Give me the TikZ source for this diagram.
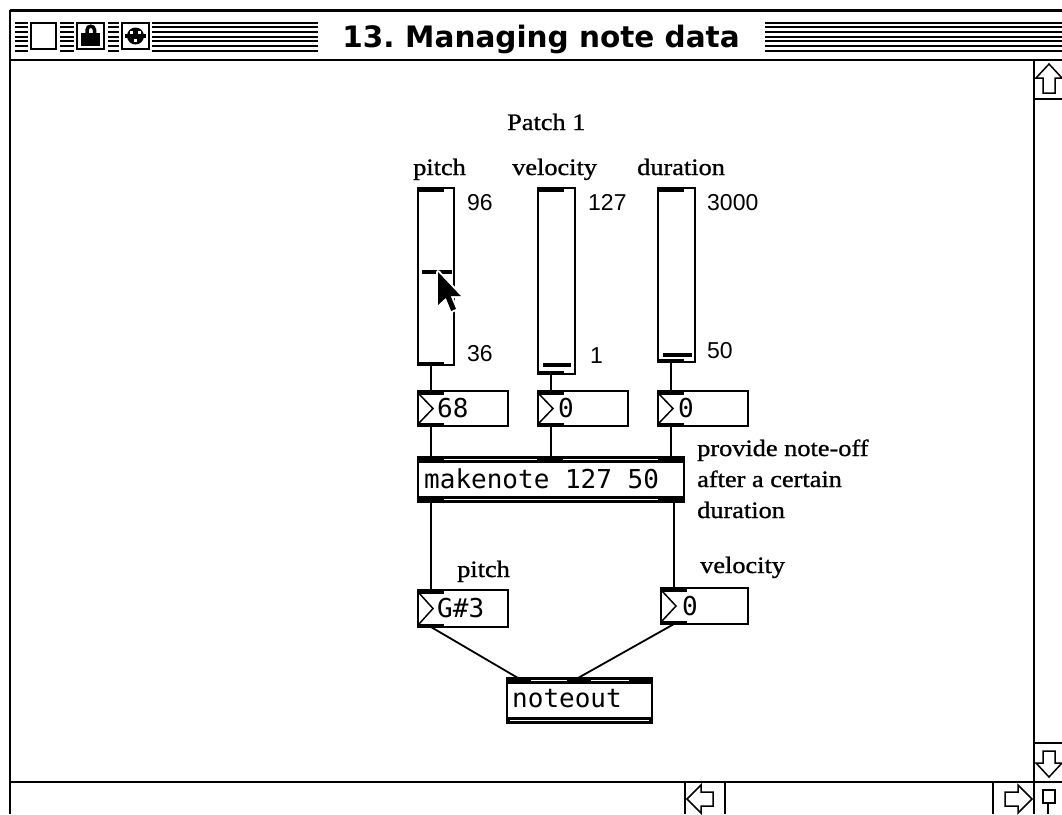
\documentclass[tikz,border=0pt]{standalone}
\usepackage{fontspec}
\setmainfont{Liberation Serif}
\newfontfamily\nyfont[FakeStretch=1.12,FakeBold=1]{Liberation Serif}
\newfontfamily\monfont{DejaVu Sans Mono}
\newfontfamily\genfont{Liberation Sans}
\newfontfamily\chifont{DejaVu Sans}
\usetikzlibrary{calc}
\newcommand{\tabN}[2]{\fill ($(#1.north west)+(#2,-1)$) rectangle ++(26,4.5);}
\newcommand{\tabS}[2]{\fill ($(#1.south west)+(#2,1)$) rectangle ++(26,-4.5);}
\newcommand{\tri}[1]{\draw[line width=1.5] ($(#1.north west)+(1,3)$) -- ($(#1.west)+(15,0)$) -- ($(#1.south west)+(1,-3)$);}
\begin{document}
\begin{tikzpicture}[x=1pt,y=-1pt,
  box/.style={draw, line width=2, inner sep=0, outer sep=0, fill=white},
  conn/.style={line width=2},
  lbl/.style={font=\nyfont\fontsize{23.5}{26}\selectfont, anchor=base west, inner sep=0},
  num/.style={font=\genfont\fontsize{23}{26}\selectfont, anchor=base west, inner sep=0},
  mono/.style={font=\monfont\fontsize{26}{28}\selectfont, anchor=base west, inner sep=0},
  frame/.style={line width=2},
  stripe/.style={line width=1.8},
  arrowbox/.style={line width=1.5, line join=miter}]
\useasboundingbox (0,0) rectangle (1062,814);
\fill[white] (0,0) rectangle (1062,814);
\clip (0,0) rectangle (1062,814);

% ---------- window frame ----------
\draw[line width=3] (10,10) -- (1062,10);
\draw[frame] (10,10) -- (10,814);
\draw[frame] (10,59.5) -- (1062,59.5);
\foreach \k in {0,...,6}{
  \draw[stripe] (15,{22.7+4.67*\k}) -- (318,{22.7+4.67*\k});
  \draw[stripe] (765,{22.7+4.67*\k}) -- (1062,{22.7+4.67*\k});
}
\fill[white] (28,18) rectangle (60,54);
\fill[white] (74,18) rectangle (108,54);
\fill[white] (119,18) rectangle (152,54);
\draw[frame] (31,23) rectangle (56,49);
\draw[frame] (77,23) rectangle (104,49);
\draw[frame] (122,23) rectangle (149,49);
% lock
\fill (81,33) rectangle (100,46);
\draw[line width=3.5] (87,34) -- (87,30) .. controls (87,25) and (94.5,25) .. (94.5,30) -- (94.5,34);
% plug
\fill (135.5,36) circle (8.5);
\fill (125,34) rectangle (146,38);
\fill[white] (130,31) rectangle (133,34);
\fill[white] (138,31) rectangle (141,34);
\fill[white] (134,39) rectangle (137,42);
% title
\node[font=\chifont\bfseries\fontsize{29.5}{32}\selectfont, anchor=base, inner sep=0] (title) at (541,47) {13.\hspace{-3pt} Managing note data};

% ---------- scroll bars ----------
\draw[frame] (1034,59.5) -- (1034,814);
\draw[frame] (1034,99) -- (1062,99);
\draw[arrowbox] (1049,64) -- (1062,78) -- (1055,78) -- (1055,93) -- (1043,93) -- (1043,78) -- (1036,78) -- cycle;
\draw[frame] (1034,743) -- (1062,743);
\draw[arrowbox] (1043,751) -- (1055,751) -- (1055,763) -- (1062,763) -- (1049,777) -- (1036,763) -- (1043,763) -- cycle;
\draw[frame] (10,782) -- (1062,782);
\draw[frame] (685,782) -- (685,814);
\draw[frame] (725,782) -- (725,814);
\draw[frame] (993,782) -- (993,814);
\draw[arrowbox] (687,799) -- (701,785) -- (701,792) -- (713,792) -- (713,806) -- (701,806) -- (701,813) -- cycle;
\draw[arrowbox] (1032,799) -- (1018,785) -- (1018,792) -- (1005,792) -- (1005,806) -- (1018,806) -- (1018,813) -- cycle;
\draw[line width=1.8] (1043,790) rectangle (1055,803);
\draw[line width=1.8] (1048,803) -- (1048,814);

% ---------- patch ----------
\node[lbl] (tpatch) at (507,130) {Patch 1};
\node[lbl] (tpitch) at (413,175) {pitch};
\node[lbl] (tvel) at (512,175) {velocity};
\node[lbl] (tdur) at (637,175) {duration};

% sliders
\node[box, minimum width=36, minimum height=177] (s1) at (436,276.5) {};
\node[box, minimum width=37, minimum height=186] (s2) at (556.5,281) {};
\node[box, minimum width=37, minimum height=174] (s3) at (676.5,275) {};
\tabN{s1}{0}\tabS{s1}{0}
\tabN{s2}{0}\tabS{s2}{0}
\tabN{s3}{0}\tabS{s3}{0}
\draw[line width=3.5] (422,272) -- (452,272);
\draw[line width=3.5] (543,365) -- (571,365);
\draw[line width=3.5] (663,355) -- (692,355);

\node[num] (v96) at (467,210) {96};
\node[num] (v36) at (467,361) {36};
\node[num] (v127) at (588,210) {127};
\node[num] (v1) at (590,363) {1};
\node[num] (v3000) at (707,210) {3000};
\node[num] (v50) at (707,358) {50};

% number boxes
\node[box, minimum width=90, minimum height=35] (n1) at (463,408.5) {};
\node[box, minimum width=90, minimum height=35] (n2) at (583,408.5) {};
\node[box, minimum width=90, minimum height=35] (n3) at (703,408.5) {};
\tabN{n1}{0}\tabS{n1}{0}\tri{n1}
\tabN{n2}{0}\tabS{n2}{0}\tri{n2}
\tabN{n3}{0}\tabS{n3}{0}\tri{n3}
\node[mono] (n1t) at (437,417.5) {68};
\node[mono] (n2t) at (558,417.5) {0};
\node[mono] (n3t) at (678,417.5) {0};

% makenote
\node[box, minimum width=266, minimum height=45] (mk) at (551,479.5) {};
\fill ($(mk.north west)+(0,-1)$) rectangle ($(mk.north east)+(0,6)$);
\draw[white, line width=1.5] ($(mk.north west)+(26,2.7)$) -- ($(mk.north west)+(119,2.7)$);
\draw[white, line width=1.5] ($(mk.north west)+(145,2.7)$) -- ($(mk.north west)+(240,2.7)$);
\fill ($(mk.south west)+(0,-6)$) rectangle ($(mk.south east)+(0,1)$);
\draw[white, line width=1.5] ($(mk.south west)+(26,-2.7)$) -- ($(mk.south west)+(240,-2.7)$);
\node[mono] (mkt) at (424,488) {makenote 127 50};

\node[lbl] (c1) at (697,456) {provide note-off};
\node[lbl] (c2) at (697,487) {after a certain};
\node[lbl] (c3) at (697,518) {duration};

% output number boxes
\node[lbl] (tpitch2) at (457,577) {pitch};
\node[lbl] (tvel2) at (700,573) {velocity};
\node[box, minimum width=90, minimum height=37] (g) at (463,608.5) {};
\node[box, minimum width=87, minimum height=36] (v) at (704.5,606) {};
\tabN{g}{0}\tabS{g}{0}\tri{g}
\tabN{v}{0}\tabS{v}{0}\tri{v}
\node[mono] (gt) at (437,617.5) {G\#3};
\node[mono] (vt) at (682,615) {0};

% noteout
\node[box, minimum width=145, minimum height=45] (no) at (579.5,700.5) {};
\fill ($(no.north west)+(0,-1)$) rectangle ($(no.north east)+(0,6)$);
\draw[white, line width=1.5] ($(no.north west)+(24,2.7)$) -- ($(no.north west)+(60,2.7)$);
\draw[white, line width=1.5] ($(no.north west)+(84,2.7)$) -- ($(no.north west)+(122,2.7)$);
\fill ($(no.south west)+(0,-6)$) rectangle ($(no.south east)+(0,1)$);
\draw[white, line width=1.5] ($(no.south west)+(3,-2.7)$) -- ($(no.south east)+(-3,-2.7)$);
\node[mono] (not) at (512,707) {noteout};

% ---------- connectors ----------
\draw[conn] ($(s1.south west)+(13,0)$) -- ($(n1.north west)+(13,0)$);
\draw[conn] ($(s2.south west)+(13,0)$) -- ($(n2.north west)+(13,0)$);
\draw[conn] ($(s3.south west)+(13,0)$) -- ($(n3.north west)+(13,0)$);
\draw[conn] ($(n1.south west)+(13,0)$) -- ($(mk.north west)+(13,0)$);
\draw[conn] ($(n2.south west)+(13,0)$) -- ($(mk.north west)+(133,0)$);
\draw[conn] ($(n3.south west)+(13,0)$) -- ($(mk.north west)+(253,0)$);
\draw[conn] ($(mk.south west)+(13,0)$) -- ($(g.north west)+(13,0)$);
\coordinate (vin) at ($(v.north west)+(13,0)$);
\draw[conn] (vin |- mk.south) -- (vin);
\draw[line width=1.8] ($(g.south west)+(13,0)$) -- ($(no.north west)+(11,0)$);
\draw[line width=1.8] ($(v.south west)+(13,0)$) -- ($(no.north west)+(71,0)$);

% ---------- cursor ----------
\begin{scope}[shift={(438,272)}, scale=3]
  \draw[white, line width=4, line join=round] (0,0) -- (0,11) -- (2.6,8.6) -- (4.4,13) -- (6,12.3) -- (4.2,8) -- (7.6,8) -- cycle;
  \fill[black] (0,0) -- (0,11) -- (2.6,8.6) -- (4.4,13) -- (6,12.3) -- (4.2,8) -- (7.6,8) -- cycle;
\end{scope}
\end{tikzpicture}
\end{document}
